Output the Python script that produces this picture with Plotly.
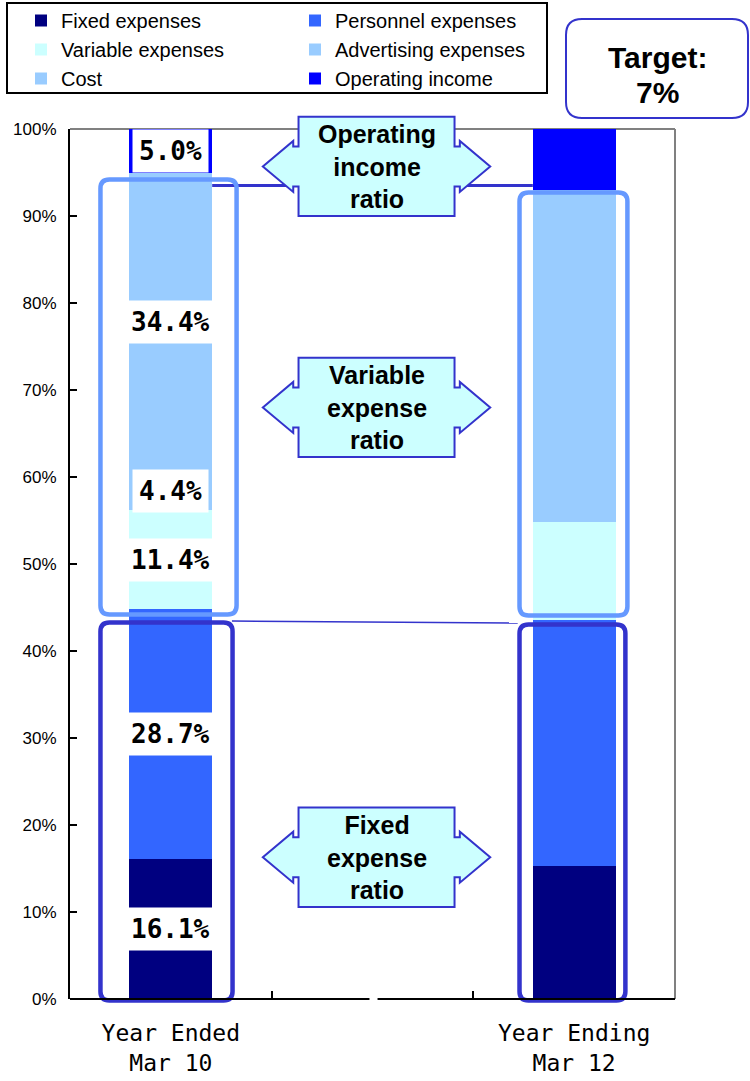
import plotly.graph_objects as go

# ---- data -------------------------------------------------------------
periods = ["Year Ended<br>Mar 10", "Year Ending<br>Mar 12"]
spacer = " "
series_names = ["Fixed expenses", "Personnel expenses", "Variable expenses",
                "Advertising expenses", "Cost", "Operating income"]
fixed_expenses = [16.1, 15.3]
personnel_expenses = [28.7, 28.3]
variable_expenses = [11.4, 11.2]
advertising_expenses = [4.4, 4.2]
cost = [34.4, 34.0]
operating_income = [5.0, 7.0]
series_colors = ["#000080", "#3366FF", "#CCFFFF", "#99CCFF", "#99CCFF", "#0000FF"]
y_ticks = list(range(0, 101, 10))
y_tick_labels = [f"{v}%" for v in y_ticks]
callout_texts = ["Operating<br>income<br>ratio",
                 "Variable<br>expense<br>ratio",
                 "Fixed<br>expense<br>ratio"]
target_lines = ["Target:", "7%"]

series_values = [fixed_expenses, personnel_expenses, variable_expenses,
                 advertising_expenses, cost, operating_income]

# ---- geometry ---------------------------------------------------------
W, H = 750, 1081
M_L, M_R, M_T, M_B = 70, 75, 129, 82
PW, PH = W - M_L - M_R, H - M_T - M_B
N_SLOTS = 3
BAR_W = 0.41

MONO = "DejaVu Sans Mono, Liberation Mono, monospace"
SANS = "Liberation Sans, Arial, sans-serif"
EDGE = "#3333CC"


def px(x):
    """category-axis units -> paper x"""
    return (x + 0.5) / N_SLOTS


def py(y):
    """percent -> paper y"""
    return y / 100.0


def rounded_rect(x0, y0, x1, y1, r):
    rx, ry = r / PW, r / PH
    return (f"M{x0 + rx},{y0} L{x1 - rx},{y0} Q{x1},{y0} {x1},{y0 + ry} "
            f"L{x1},{y1 - ry} Q{x1},{y1} {x1 - rx},{y1} "
            f"L{x0 + rx},{y1} Q{x0},{y1} {x0},{y1 - ry} "
            f"L{x0},{y0 + ry} Q{x0},{y0} {x0 + rx},{y0} Z")


def double_arrow(cx, cy):
    """left-right arrow callout centred on (cx, cy) in paper units"""
    bw, sw, tw = 78 / PW, 83.3 / PW, 113.7 / PW
    bh, sh, hh = 49.7 / PH, 20 / PH, 25.5 / PH
    pts = [(cx - bw, cy + bh), (cx + bw, cy + bh), (cx + bw, cy + sh),
           (cx + sw, cy + sh), (cx + sw, cy + hh), (cx + tw, cy),
           (cx + sw, cy - hh), (cx + sw, cy - sh), (cx + bw, cy - sh),
           (cx + bw, cy - bh), (cx - bw, cy - bh), (cx - bw, cy - sh),
           (cx - sw, cy - sh), (cx - sw, cy - hh), (cx - tw, cy),
           (cx - sw, cy + hh), (cx - sw, cy + sh), (cx - bw, cy + sh)]
    return "M" + " L".join(f"{a},{b}" for a, b in pts) + " Z"


fig = go.Figure()
for name, vals, col in zip(series_names, series_values, series_colors):
    fig.add_trace(go.Bar(x=periods, y=vals, name=name, width=BAR_W,
                         marker=dict(color=col, line=dict(width=0))))

shapes = []

# connector lines between the two columns
shapes.append(dict(type="line", xref="paper", yref="paper",
                   x0=px(0 + BAR_W / 2), x1=px(2 - BAR_W / 2),
                   y0=py(93.5), y1=py(93.5),
                   line=dict(color=EDGE, width=3), layer="above"))
shapes.append(dict(type="line", xref="paper", yref="paper",
                   x0=px(0.303), x1=px(1.72), y0=py(43.45), y1=py(43.22),
                   line=dict(color=EDGE, width=1.5), layer="above"))

# group outlines around the columns
group_boxes = [
    (-0.349, 44.2, 0.326, 94.2, "#6699FF"),
    (-0.349, -0.17, 0.306, 43.28, EDGE),
    (1.729, 44.08, 2.264, 92.7, "#6699FF"),
    (1.729, -0.17, 2.254, 43.05, EDGE),
]
for x0, y0, x1, y1, col in group_boxes:
    shapes.append(dict(type="path", xref="paper", yref="paper",
                       path=rounded_rect(px(x0), py(y0), px(x1), py(y1), 9),
                       line=dict(color=col, width=4.5), layer="above"))

# ratio callouts
callout_cx = 1.02
callout_cy = [95.7, 68.0, 16.3]
for cy in callout_cy:
    shapes.append(dict(type="path", xref="paper", yref="paper",
                       path=double_arrow(px(callout_cx), py(cy)),
                       fillcolor="#CCFFFF", line=dict(color=EDGE, width=2),
                       layer="above"))

# frame: bottom axis with a break, grey top/right border
shapes += [
    dict(type="line", xref="paper", yref="paper", x0=0, x1=px(0.985), y0=0, y1=0,
         line=dict(color="black", width=2), layer="above"),
    dict(type="line", xref="paper", yref="paper", x0=px(1.025), x1=1, y0=0, y1=0,
         line=dict(color="black", width=2), layer="above"),
    dict(type="line", xref="paper", yref="paper", x0=0, x1=1, y0=1, y1=1,
         line=dict(color="#808080", width=2), layer="below"),
    dict(type="line", xref="paper", yref="paper", x0=1, x1=1, y0=0, y1=1,
         line=dict(color="#808080", width=2), layer="below"),
]

# legend frame and target box
shapes.append(dict(type="rect", xref="paper", yref="paper",
                   x0=(7 - M_L) / PW, x1=(547 - M_L) / PW,
                   y0=(H - M_B - 93) / PH, y1=(H - M_B - 3) / PH,
                   line=dict(color="black", width=2), fillcolor="white",
                   layer="below"))
shapes.append(dict(type="path", xref="paper", yref="paper",
                   path=rounded_rect((566 - M_L) / PW, (H - M_B - 118) / PH,
                                     (748 - M_L) / PW, (H - M_B - 19) / PH, 16),
                   line=dict(color=EDGE, width=2), fillcolor="white",
                   layer="above"))

annotations = []
# value labels on the first column
base = 0.0
for vals in series_values:
    v = vals[0]
    annotations.append(dict(x=periods[0], y=base + v / 2, xref="x", yref="y",
                            xanchor="center", yanchor="middle",
                            text=f"{v:.1f}%", showarrow=False,
                            bgcolor="white", borderpad=6,
                            font=dict(family=MONO, size=26, color="black",
                                      weight="bold")))
    base += v

for text, cy in zip(callout_texts, callout_cy):
    annotations.append(dict(x=px(callout_cx), y=py(cy), xref="paper", yref="paper",
                            xanchor="center", yanchor="middle",
                            text=text, showarrow=False,
                            font=dict(family=SANS, size=25, color="black",
                                      weight="bold")))

target_x = (657 - M_L) / PW
for text, ypix in zip(target_lines, [57, 93]):
    annotations.append(dict(x=target_x, y=(H - M_B - ypix) / PH,
                            xref="paper", yref="paper", text=text,
                            xanchor="center", yanchor="middle",
                            showarrow=False,
                            font=dict(family=SANS, size=30, color="black",
                                      weight="bold")))

fig.update_layout(
    width=W, height=H,
    margin=dict(l=M_L, r=M_R, t=M_T, b=M_B, autoexpand=False),
    paper_bgcolor="white", plot_bgcolor="white",
    barmode="stack", bargap=0,
    showlegend=True,
    legend=dict(orientation="h", x=(21 - M_L) / PW, y=(H - M_B - 1) / PH,
                xanchor="left", yanchor="top", traceorder="normal",
                entrywidth=229, entrywidthmode="pixels", itemwidth=30,
                bgcolor="rgba(0,0,0,0)", borderwidth=0,
                font=dict(family=SANS, size=20, color="black")),
    xaxis=dict(type="category", categoryorder="array",
               categoryarray=[periods[0], spacer, periods[1]],
               range=[-0.5, 2.5], tickson="boundaries", automargin=False,
               ticks="inside", ticklen=8, tickwidth=1.5, tickcolor="black",
               showline=False, showgrid=False, zeroline=False,
               ticklabelstandoff=18,
               tickfont=dict(family=MONO, size=23, color="black")),
    yaxis=dict(range=[0, 100], tickvals=y_ticks, ticktext=y_tick_labels,
               automargin=False,
               ticks="inside", ticklen=7, tickwidth=1.5, tickcolor="black",
               showline=True, linecolor="black", linewidth=2,
               showgrid=False, zeroline=False, ticklabelstandoff=8,
               tickfont=dict(family=SANS, size=17, color="black")),
    shapes=shapes,
    annotations=annotations,
)

fig.write_html("out.html")
